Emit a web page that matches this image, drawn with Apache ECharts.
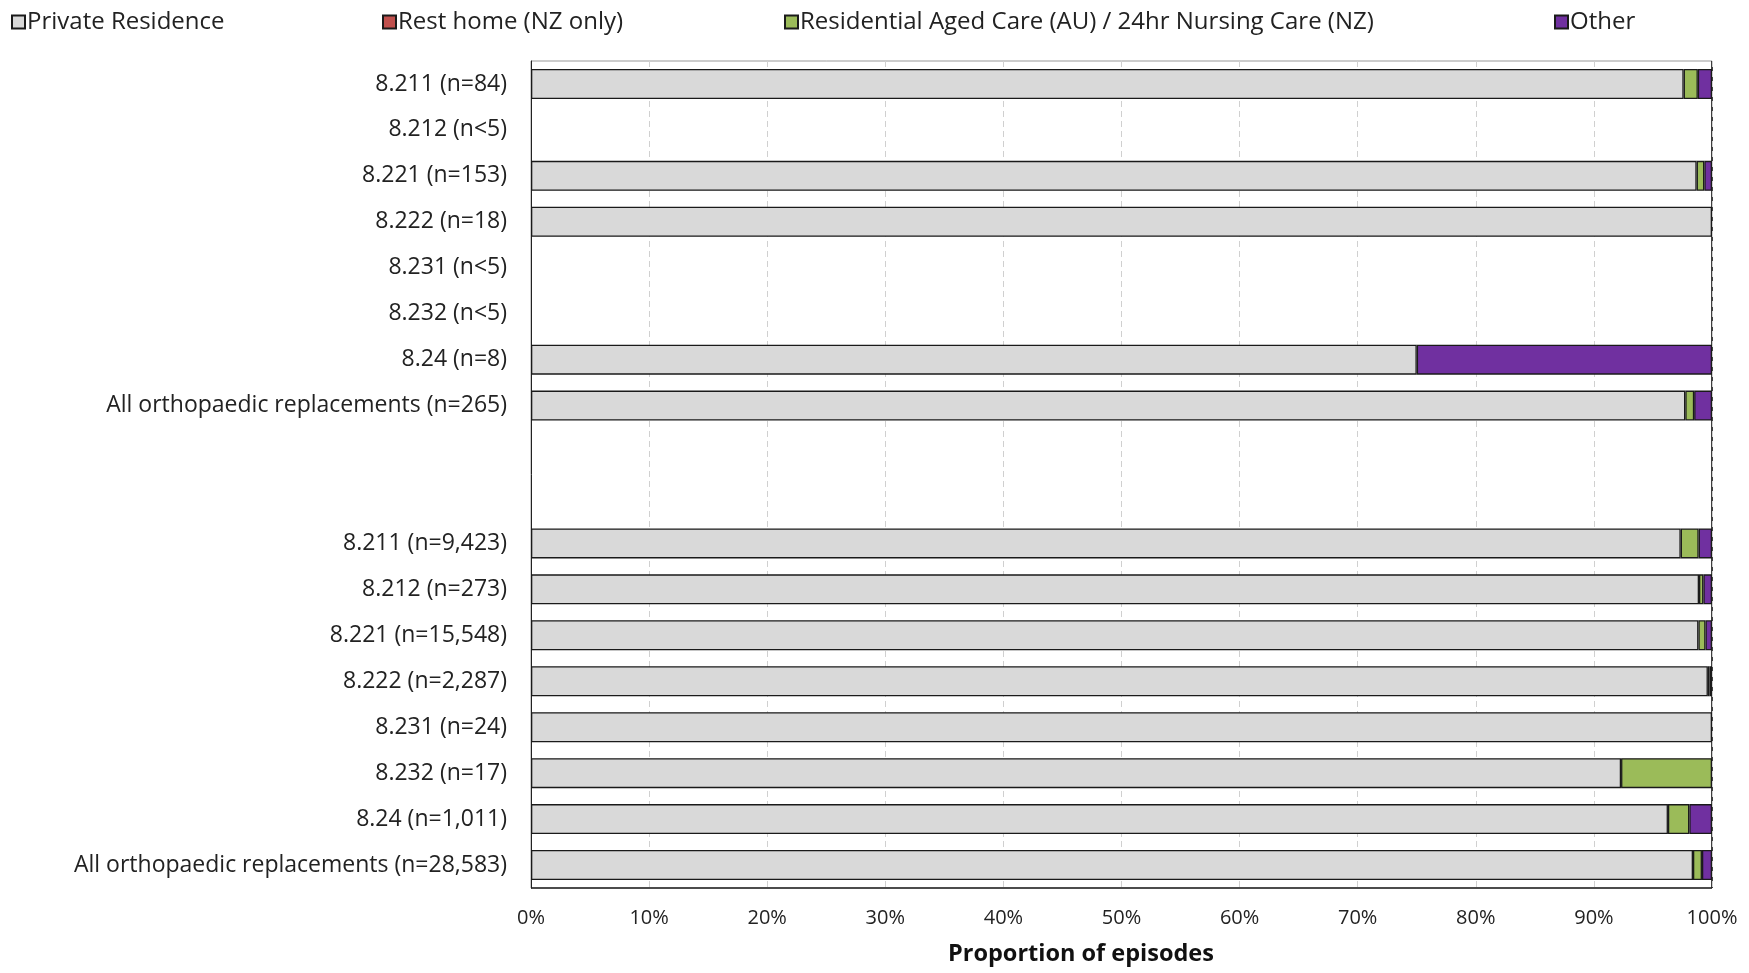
<!DOCTYPE html>
<html><head><meta charset="utf-8">
<script src="https://cdn.jsdelivr.net/npm/echarts@6/dist/echarts.min.js"></script>
<style>html,body{margin:0;padding:0;background:#fff}#c{width:1749px;height:973px}</style>
</head><body><div id="c"></div>
<script>
const categories = [
  '8.211 (n=84)', '8.212 (n<5)', '8.221 (n=153)', '8.222 (n=18)', '8.231 (n<5)', '8.232 (n<5)', '8.24 (n=8)',
  'All orthopaedic replacements (n=265)', '', ' ',
  '8.211 (n=9,423)', '8.212 (n=273)', '8.221 (n=15,548)', '8.222 (n=2,287)', '8.231 (n=24)', '8.232 (n=17)',
  '8.24 (n=1,011)', 'All orthopaedic replacements (n=28,583)'
];
const privateResidence = [97.6, null, 98.7, 100, null, null, 75, 97.74, null, null, 97.35, 98.9, 98.85, 99.65, 100, 92.3, 96.27, 98.39];
const restHome        = [null, null, null, null, null, null, null, null, null, null, null, null, null, null, null, null, null, null];
const residentialCare = [1.2, null, 0.65, null, null, null, null, 0.75, null, null, 1.52, 0.37, 0.6, 0.13, null, 7.7, 1.81, 0.76];
const other           = [1.2, null, 0.65, null, null, null, 25, 1.51, null, null, 1.13, 0.73, 0.55, 0.22, null, null, 1.92, 0.85];
const xTicks = [0, 10, 20, 30, 40, 50, 60, 70, 80, 90, 100];

const FONT = 'Open Sans';
const names = ['Private Residence', 'Rest home (NZ only)', 'Residential Aged Care (AU) / 24hr Nursing Care (NZ)', 'Other'];
const colors = ['#D9D9D9', '#C0504D', '#9BBB59', '#7030A0'];
const datasets = [privateResidence, restHome, residentialCare, other];

const chart = echarts.init(document.getElementById('c'), null, {renderer: 'canvas'});
const legendLefts = [6, 377, 779, 1549];
chart.setOption({
  animation: false,
  textStyle: {fontFamily: FONT},
  legend: names.map((n, i) => ({
    data: [n], left: legendLefts[i], top: 5, icon: 'rect', itemWidth: 13, itemHeight: 13, itemGap: 4,
    textStyle: {fontFamily: FONT, fontSize: 24, color: '#222', padding: [0, 0, 0, -3]}
  })),
  grid: {left: 531, right: 37, top: 61, bottom: 85, show: true, borderColor: '#999', borderWidth: 1},
  xAxis: {
    type: 'value', min: 0, max: 100, interval: 10,
    axisLabel: {formatter: v => v + '%', fontSize: 20, color: '#222', margin: 20, fontFamily: FONT},
    axisLine: {show: false}, axisTick: {show: false},
    splitLine: {show: true, lineStyle: {type: [6, 4], color: '#d0d0d0', width: 1}}
  },
  yAxis: {
    type: 'category', data: categories, inverse: true,
    axisLabel: {fontSize: 23, color: '#222', margin: 24, fontFamily: FONT},
    axisLine: {show: true, lineStyle: {color: '#222', width: 1}}, axisTick: {show: false}
  },
  series: names.map((n, i) => ({
    name: n, type: 'bar', stack: 'total', data: datasets[i], barWidth: 30,
    itemStyle: {color: colors[i], borderColor: '#1a1a1a', borderWidth: 1.3}
  })),
  graphic: [
    {type: 'line', shape: {x1: 1712, y1: 61, x2: 1712, y2: 888}, style: {stroke: '#111', lineWidth: 1.5}},
    {type: 'line', shape: {x1: 531, y1: 888, x2: 1712, y2: 888}, style: {stroke: '#222', lineWidth: 1.5}},
    {type: 'text', style: {text: 'Proportion of episodes', fontFamily: FONT, fontSize: 23.5, fontWeight: 'bold', fill: '#111'}, top: 942, left: 948}
  ]
});
</script></body></html>
